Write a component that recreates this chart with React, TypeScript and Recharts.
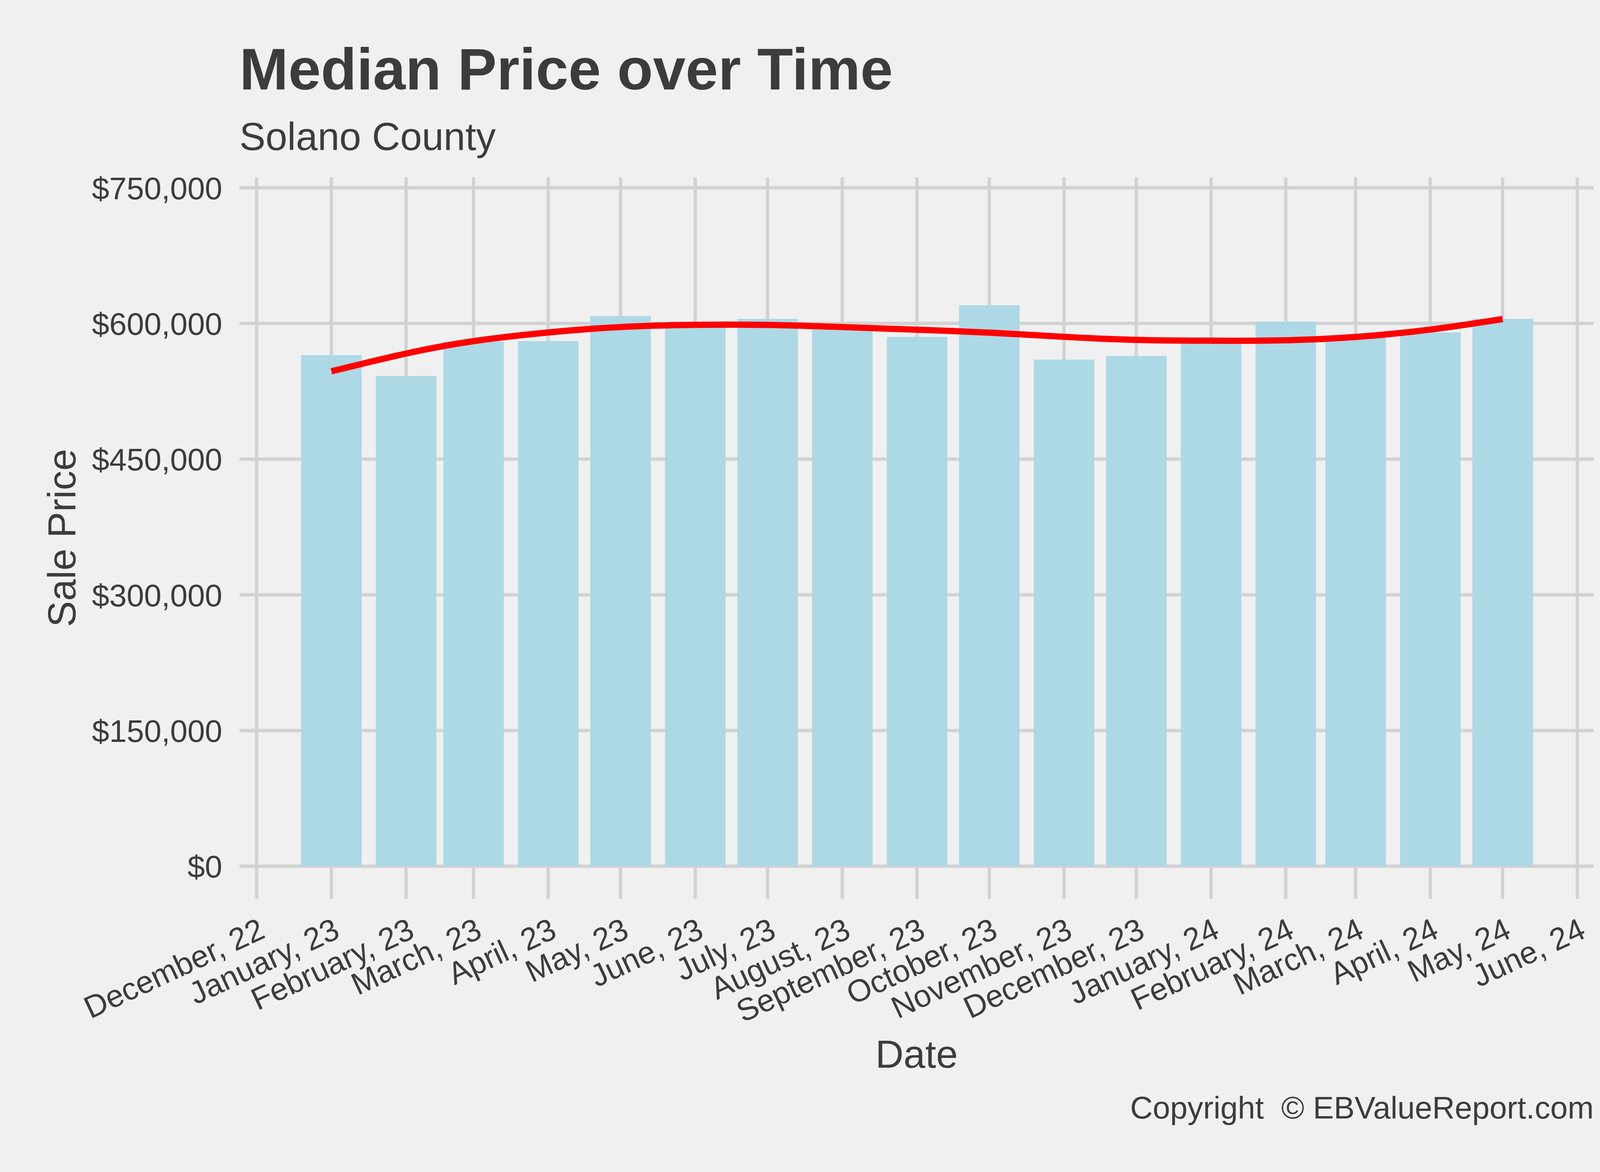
import React from 'react';
import { ComposedChart, Bar, Line, XAxis, YAxis, CartesianGrid } from 'recharts';

// ---- data ----
const monthDates = [
  '2023-01-01', '2023-02-01', '2023-03-01', '2023-04-01', '2023-05-01', '2023-06-01',
  '2023-07-01', '2023-08-01', '2023-09-01', '2023-10-01', '2023-11-01', '2023-12-01',
  '2024-01-01', '2024-02-01', '2024-03-01', '2024-04-01', '2024-05-01',
];
const medianPrice = [
  565000, 542000, 580000, 580500, 608000, 599000,
  605000, 597000, 585000, 620000, 560000, 564000,
  580000, 602000, 585000, 590000, 605000,
];
const smoothTrend = [
  547000, 566700, 580400, 590000, 596000, 598400,
  598300, 596000, 593000, 589800, 585200, 581800,
  580900, 581400, 585000, 593200, 604800,
];
const tickDates = [
  '2022-12-01', '2023-01-01', '2023-02-01', '2023-03-01', '2023-04-01', '2023-05-01',
  '2023-06-01', '2023-07-01', '2023-08-01', '2023-09-01', '2023-10-01', '2023-11-01',
  '2023-12-01', '2024-01-01', '2024-02-01', '2024-03-01', '2024-04-01', '2024-05-01',
  '2024-06-01',
];
const tickLabels = [
  'December, 22', 'January, 23', 'February, 23', 'March, 23', 'April, 23', 'May, 23',
  'June, 23', 'July, 23', 'August, 23', 'September, 23', 'October, 23', 'November, 23',
  'December, 23', 'January, 24', 'February, 24', 'March, 24', 'April, 24', 'May, 24',
  'June, 24',
];
const yTicks = [0, 150000, 300000, 450000, 600000, 750000];
const yTickLabels = ['$0', '$150,000', '$300,000', '$450,000', '$600,000', '$750,000'];

// ---- helpers ----
const DAY_MS = 86400000;
const ORIGIN = Date.UTC(2022, 11, 1);
const toDay = (s: string) => {
  const [y, m, d] = s.split('-').map(Number);
  return Math.round((Date.UTC(y, m - 1, d) - ORIGIN) / DAY_MS);
};

const data = monthDates.map((d, i) => ({
  day: toDay(d),
  price: medianPrice[i],
  trend: smoothTrend[i],
}));
const xTicks = tickDates.map(toDay);

const FONT = '"Liberation Sans", Arial, Helvetica, sans-serif';
const TEXT = '#3C3C3C';

const XTick = (props: any) => {
  const { x, payload } = props;
  const i = xTicks.indexOf(payload.value);
  const ay = 2343;
  return (
    <text
      x={x}
      y={ay + 61}
      transform={`rotate(-25, ${x}, ${ay})`}
      textAnchor="end"
      fontSize={80}
      fontFamily={FONT}
      fill={TEXT}
    >
      {tickLabels[i]}
    </text>
  );
};

const YTick = (props: any) => {
  const { y, payload } = props;
  const i = yTicks.indexOf(payload.value);
  return (
    <text x={569} y={y + 29} textAnchor="end" fontSize={80} fontFamily={FONT} fill={TEXT}>
      {yTickLabels[i]}
    </text>
  );
};

export default function App() {
  return (
    <div style={{ position: 'relative', width: 4200, height: 3000, background: '#F0F0F0' }}>
      <style>{'body{margin:0;background:#F0F0F0;}'}</style>
      <ComposedChart
        width={4200}
        height={3000}
        data={data}
        margin={{ top: 454, right: 120, bottom: 698, left: 612 }}
      >
        <CartesianGrid stroke="#D2D2D2" strokeWidth={8.5} syncWithTicks />
        <XAxis
          type="number"
          dataKey="day"
          domain={[-7.13, 554.81]}
          ticks={xTicks}
          interval={0}
          tick={<XTick />}
          tickLine={false}
          axisLine={false}
          height={1}
          allowDataOverflow
        />
        <YAxis
          type="number"
          domain={[-36150, 761445]}
          ticks={yTicks}
          interval={0}
          tick={<YTick />}
          tickLine={false}
          axisLine={false}
          width={1}
          allowDataOverflow
        />
        <Bar dataKey="price" fill="#ADD8E6" barSize={155} isAnimationActive={false} />
        <Line
          type="natural"
          dataKey="trend"
          stroke="#FF0000"
          strokeWidth={16}
          dot={false}
          activeDot={false}
          strokeLinecap="butt"
          isAnimationActive={false}
        />
      </ComposedChart>
      <svg
        width={4200}
        height={3000}
        style={{ position: 'absolute', left: 0, top: 0, pointerEvents: 'none' }}
      >
        <text x={613} y={229} fontSize={150} fontWeight="bold" fontFamily={FONT} fill={TEXT}>
          Median Price over Time
        </text>
        <text x={613} y={384} fontSize={100} fontFamily={FONT} fill={TEXT}>
          Solano County
        </text>
        <text
          transform="translate(193,1377) rotate(-90)"
          textAnchor="middle"
          fontSize={100}
          fontFamily={FONT}
          fill={TEXT}
        >
          Sale Price
        </text>
        <text x={2346.5} y={2733} textAnchor="middle" fontSize={100} fontFamily={FONT} fill={TEXT}>
          Date
        </text>
        <text
          x={4080}
          y={2863}
          textAnchor="end"
          fontSize={80}
          fontFamily={FONT}
          fill={TEXT}
          style={{ whiteSpace: 'pre' }}
        >
          {'Copyright  \u00A9 EBValueReport.com'}
        </text>
      </svg>
    </div>
  );
}
